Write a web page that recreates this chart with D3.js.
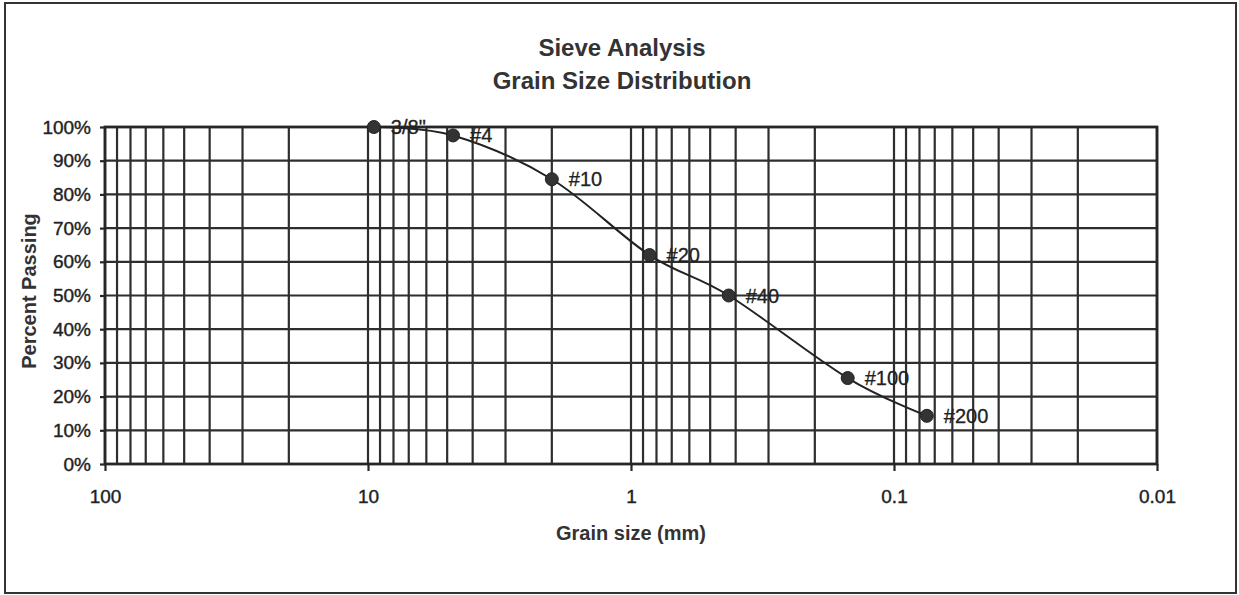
<!DOCTYPE html>
<html>
<head>
<meta charset="utf-8">
<script src="https://cdn.jsdelivr.net/npm/d3@7"></script>
<style>
  html, body { margin: 0; padding: 0; background: #fff; }
  svg { display: block; }
</style>
</head>
<body>
<svg id="chart" width="1239" height="595"></svg>
<script>
// sieve data
const sieveNames = ['3/8"', '#4', '#10', '#20', '#40', '#100', '#200'];
const grainSizes = [9.5, 4.75, 2.0, 0.85, 0.425, 0.15, 0.075];
const percentPassing = [1.00, 0.975, 0.845, 0.62, 0.50, 0.255, 0.143];

const xTickValues = [100, 10, 1, 0.1, 0.01];
const xTickLabels = ['100', '10', '1', '0.1', '0.01'];
const yTickValues = [0, 0.1, 0.2, 0.3, 0.4, 0.5, 0.6, 0.7, 0.8, 0.9, 1.0];

const width = 1239;
const height = 595;
const margin = { top: 127, right: 82, bottom: 131, left: 105 };
const font = '"Liberation Sans", Arial, sans-serif';
const ink = '#262626';

const svg = d3.select('#chart');

// outer frame
svg.append('rect')
  .attr('x', 5)
  .attr('y', 3)
  .attr('width', 1231)
  .attr('height', 590)
  .attr('fill', 'none')
  .attr('stroke', '#333')
  .attr('stroke-width', 2);

const x = d3.scaleLog()
  .domain([100, 0.01])
  .range([margin.left, width - margin.right]);

const y = d3.scaleLinear()
  .domain([0, 1])
  .range([height - margin.bottom, margin.top]);

// grid
const grid = svg.append('g');

grid.selectAll('line.v')
  .data(x.ticks())
  .join('line')
  .attr('class', 'v')
  .attr('x1', d => x(d))
  .attr('x2', d => x(d))
  .attr('y1', y(0))
  .attr('y2', y(1))
  .attr('stroke', '#2e2e2e')
  .attr('stroke-width', 2.2);

grid.selectAll('line.h')
  .data(yTickValues)
  .join('line')
  .attr('class', 'h')
  .attr('x1', x(100))
  .attr('x2', x(0.01))
  .attr('y1', d => y(d))
  .attr('y2', d => y(d))
  .attr('stroke', '#2e2e2e')
  .attr('stroke-width', 2.2);

// plot border
svg.append('rect')
  .attr('x', x(100))
  .attr('y', y(1))
  .attr('width', x(0.01) - x(100))
  .attr('height', y(0) - y(1))
  .attr('fill', 'none')
  .attr('stroke', ink)
  .attr('stroke-width', 2.8);

// axes
const xAxis = g => g
  .attr('transform', `translate(0,${y(0)})`)
  .call(d3.axisBottom(x)
    .tickValues(xTickValues)
    .tickFormat((d, i) => xTickLabels[i])
    .tickSize(7)
    .tickPadding(19))
  .call(g => g.select('.domain').remove());

const yAxis = g => g
  .attr('transform', `translate(${margin.left},0)`)
  .call(d3.axisLeft(y)
    .tickValues(yTickValues)
    .tickFormat(d3.format('.0%'))
    .tickSize(5)
    .tickPadding(9))
  .call(g => g.select('.domain').remove());

svg.append('g').call(xAxis);
svg.append('g').call(yAxis);

svg.selectAll('.tick line')
  .attr('stroke', ink)
  .attr('stroke-width', 2.2);

svg.selectAll('.tick text')
  .attr('fill', '#222')
  .attr('stroke', '#222')
  .attr('stroke-width', 0.4)
  .style('font-family', font)
  .style('font-size', '19px');

// titles
const boldText = (tx, ty, size, label, transform) => svg.append('text')
  .attr('x', tx)
  .attr('y', ty)
  .attr('transform', transform || null)
  .attr('text-anchor', 'middle')
  .attr('fill', '#333')
  .style('font-family', font)
  .style('font-weight', 'bold')
  .style('font-size', size + 'px')
  .text(label);

boldText(622, 56, 24, 'Sieve Analysis');
boldText(622, 89, 24, 'Grain Size Distribution');
boldText(631, 540, 20, 'Grain size (mm)');
boldText(0, 0, 20, 'Percent Passing', 'translate(36,291) rotate(-90)');

// gradation curve
const points = grainSizes.map((d, i) => ({ size: d, pct: percentPassing[i], name: sieveNames[i] }));

const line = d3.line()
  .x(d => x(d.size))
  .y(d => y(d.pct))
  .curve(d3.curveCatmullRom.alpha(0));

svg.append('path')
  .datum(points)
  .attr('fill', 'none')
  .attr('stroke', '#222')
  .attr('stroke-width', 2)
  .attr('d', line);

svg.selectAll('circle.pt')
  .data(points)
  .join('circle')
  .attr('class', 'pt')
  .attr('cx', d => x(d.size))
  .attr('cy', d => y(d.pct))
  .attr('r', 6.5)
  .attr('fill', '#333')
  .attr('stroke', '#222')
  .attr('stroke-width', 1);

svg.selectAll('text.lbl')
  .data(points)
  .join('text')
  .attr('class', 'lbl')
  .attr('x', d => x(d.size) + 17)
  .attr('y', d => y(d.pct) + 7)
  .attr('fill', '#222')
  .attr('stroke', '#222')
  .attr('stroke-width', 0.3)
  .style('font-family', font)
  .style('font-size', '20px')
  .text(d => d.name);
</script>
</body>
</html>
